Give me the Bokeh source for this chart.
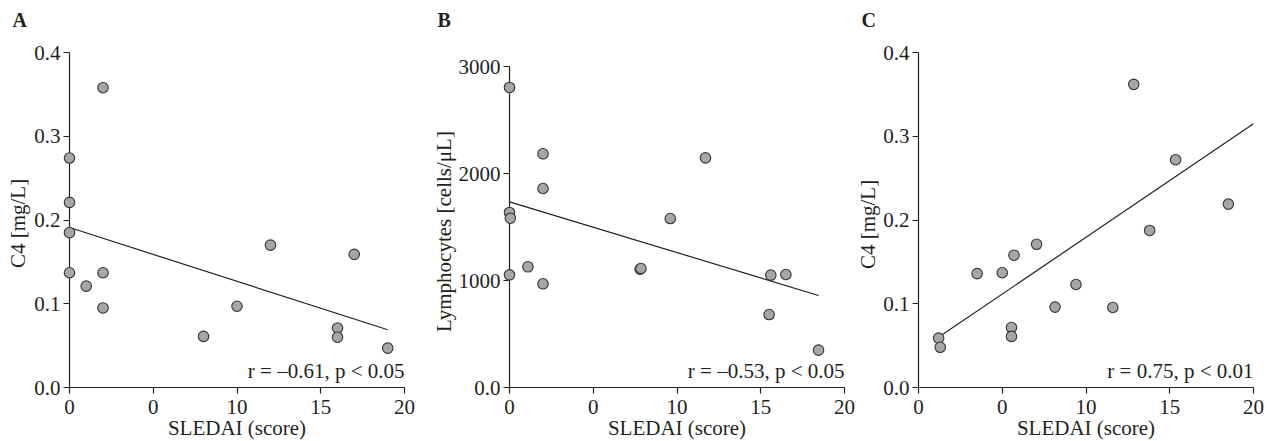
import math
from bokeh.plotting import figure
from bokeh.layouts import row
from bokeh.models import Range1d, FixedTicker
from bokeh.core.properties import value
from bokeh.embed import file_html
from bokeh.resources import INLINE

FONT = "Liberation Serif"
TXT = "#231f20"

# ---------------- data ----------------
x_ticks = [0, 5, 10, 15, 20]
x_tick_labels = ["0", "0", "10", "15", "20"]
x_label = "SLEDAI (score)"

# Panel A: C4 vs SLEDAI
a_x = [2, 0, 0, 0, 0, 1, 2, 2, 8, 10, 12, 16, 16, 17, 19]
a_y = [0.358, 0.274, 0.221, 0.185, 0.137, 0.121, 0.137, 0.095, 0.061, 0.097, 0.170, 0.071, 0.060, 0.159, 0.047]
a_fit_x = [0, 19]
a_fit_y = [0.191, 0.069]
a_y_ticks = [0, 0.1, 0.2, 0.3, 0.4]
a_y_tick_labels = ["0.0", "0.1", "0.2", "0.3", "0.4"]
a_y_label = "C4 [mg/L]"
a_note = "r = \u20130.61, p < 0.05"

# Panel B: Lymphocytes vs SLEDAI
b_x = [0, 0, 0.05, 0, 1.1, 2, 2, 2, 7.8, 7.85, 9.6, 11.7, 15.6, 15.5, 16.5, 18.45]
b_y = [2804, 1636, 1582, 1053, 1128, 2184, 1860, 969, 1106, 1112, 1579, 2146, 1050, 682, 1056, 349]
b_fit_x = [0, 18.45]
b_fit_y = [1735, 860]
b_y_ticks = [0, 1000, 2000, 3000]
b_y_tick_labels = ["0.0", "1000", "2000", "3000"]
b_y_label = "Lymphocytes [cells/\u03bcL]"
b_note = "r = \u20130.53, p < 0.05"

# Panel C: C4 vs SLEDAI
c_x = [1.2, 1.3, 3.5, 5.0, 5.7, 5.55, 5.55, 7.05, 8.15, 9.4, 11.6, 12.85, 13.8, 15.35, 18.5]
c_y = [0.059, 0.048, 0.136, 0.137, 0.158, 0.0716, 0.061, 0.171, 0.096, 0.123, 0.0955, 0.362, 0.1875, 0.272, 0.219]
c_fit_x = [1.235, 20]
c_fit_y = [0.0605, 0.315]
c_y_ticks = [0, 0.1, 0.2, 0.3, 0.4]
c_y_tick_labels = ["0.0", "0.1", "0.2", "0.3", "0.4"]
c_y_label = "C4 [mg/L]"
c_note = "r = 0.75, p < 0.01"

# ---------------- layout (pixels) ----------------
FRAME_W = 335
FRAME_H = 335
TOP = 52
BOTTOM = 54
HEIGHT = TOP + FRAME_H + BOTTOM
DROP = 0.38  # em: how far this renderer draws below an "alphabetic" anchor


def make_panel(letter, xs, ys, fx, fy, axis_top, yt, ytl, ylabel, note,
               axis_px, b_left, b_right, letter_dx, ylab_dx, ylab_dy):
    # axis_px: pixel height of the drawn y axis (it ends at its top tick)
    ymax = axis_top * FRAME_H / axis_px
    p = figure(width=b_left + FRAME_W + b_right, height=HEIGHT,
               min_border_left=b_left, min_border_right=b_right,
               min_border_top=TOP, min_border_bottom=BOTTOM,
               x_range=Range1d(0, 20), y_range=Range1d(0, ymax),
               output_backend="svg", toolbar_location=None)
    p.outline_line_color = None
    p.grid.visible = False
    p.background_fill_color = "white"
    p.border_fill_color = "white"

    for ax in (p.xaxis[0], p.yaxis[0]):
        ax.axis_line_color = TXT
        ax.axis_line_width = 1.2
        ax.major_tick_line_color = TXT
        ax.major_tick_line_width = 1.2
        ax.major_tick_out = 6
        ax.major_tick_in = 0
        ax.minor_tick_line_color = None
        ax.major_label_text_font = FONT
        ax.major_label_text_font_size = "21px"
        ax.major_label_text_color = TXT

    p.xaxis.ticker = FixedTicker(ticks=x_ticks)
    p.xaxis.major_label_overrides = dict(zip(x_ticks, x_tick_labels))
    p.xaxis.major_label_standoff = 6

    p.yaxis.ticker = FixedTicker(ticks=yt)
    p.yaxis.major_label_overrides = dict(zip(yt, ytl))
    p.yaxis.bounds = (0, axis_top)
    p.yaxis.major_label_standoff = 3

    p.line(fx, fy, line_color=TXT, line_width=1.2)
    p.scatter(xs, ys, size=10.5, fill_color="#a6a6a6", line_color="#333333",
              line_width=1.1, level="overlay")

    ux = 20 / FRAME_W
    uy = ymax / FRAME_H
    d21 = DROP * 21
    d20 = DROP * 20
    common = dict(text_font=value(FONT), text_color=TXT, level="overlay",
                  text_baseline="alphabetic")
    # correlation note: baseline 9 px above the frame bottom, right-aligned
    p.text(x=[20], y=[(9 + d21) * uy], text=[note], text_align="right",
           text_font_size=value("21px"), **common)
    # panel letter: baseline 360 px above the frame bottom
    p.text(x=[letter_dx * ux], y=[(360 + d20) * uy], text=[letter],
           text_align="left", text_font_size=value("20px"),
           text_font_style="bold", **common)
    # x axis title: baseline 48 px below the frame
    p.text(x=[10], y=[(-48 + d21) * uy], text=[x_label], text_align="center",
           text_font_size=value("21px"), **common)
    # y axis title, rotated; baseline ylab_dx px from the frame's left edge
    p.text(x=[(ylab_dx - d21) * ux], y=[ylab_dy * uy], text=[ylabel],
           angle=math.pi / 2, text_align="center",
           text_font_size=value("21px"), **common)
    return p


pa = make_panel("A", a_x, a_y, a_fit_x, a_fit_y, 0.4, a_y_ticks, a_y_tick_labels,
                a_y_label, a_note, 335, 69, 21, -57, -44, 164)
pb = make_panel("B", b_x, b_y, b_fit_x, b_fit_y, 3000, b_y_ticks, b_y_tick_labels,
                b_y_label, b_note, 321, 84, 11, -72, -58, 156)
pc = make_panel("C", c_x, c_y, c_fit_x, c_fit_y, 0.4, c_y_ticks, c_y_tick_labels,
                c_y_label, c_note, 335, 63, 20, -57, -43, 163)

layout = row(pa, pb, pc)
open("out.html", "w").write(file_html(layout, INLINE))
